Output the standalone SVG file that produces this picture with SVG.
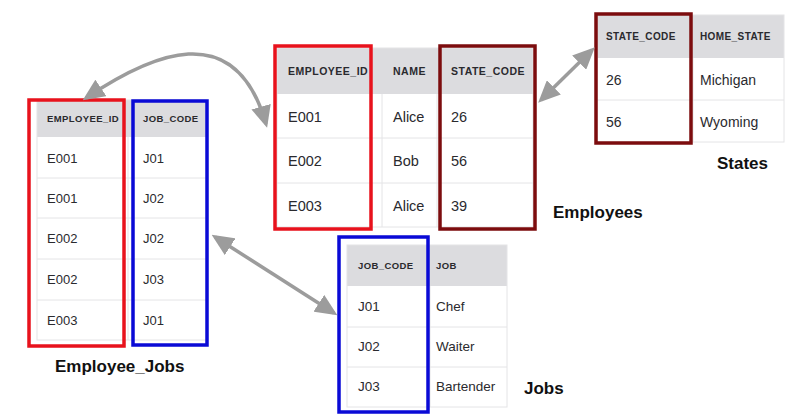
<svg xmlns="http://www.w3.org/2000/svg" width="787" height="419" viewBox="0 0 787 419">
<style>
.bg{fill:#ffffff}
.hdr{fill:#dcdcdf}
.grid{stroke:#e4e4e6;stroke-width:1;fill:none}
.h{font-family:"Liberation Sans",Arial,sans-serif;font-weight:bold;fill:#2a2a2e}
.b{font-family:"Liberation Sans",Arial,sans-serif;fill:#2a2a2e}
.lbl{font-family:"Liberation Sans",Arial,sans-serif;font-weight:bold;font-size:17px;fill:#111}
.red{fill:none;stroke:#e8121c;stroke-width:3.5}
.blue{fill:none;stroke:#0a0ad6;stroke-width:3.5}
.dred{fill:none;stroke:#7c0c0e;stroke-width:3.5}
.conn{fill:none;stroke:#9c9c9c;stroke-width:3.5}
</style>
<defs>
<marker id="ah" viewBox="0 0 22 20" refX="18" refY="10" markerWidth="22" markerHeight="20" markerUnits="userSpaceOnUse" orient="auto-start-reverse">
<path d="M0,0 L22,10 L0,20 Z" fill="#9c9c9c"/>
</marker>
</defs>
<rect class="bg" x="0" y="0" width="787" height="419"/>

<g id="employee_jobs">
<rect class="hdr" x="37" y="100" width="170" height="37"/>
<rect class="grid" x="37" y="100" width="170" height="240"/>
<path class="grid" d="M37,178H207M37,218H207M37,259H207M37,300H207M128,137V340"/>
<text class="h" font-size="9.5" letter-spacing="0.4" x="47" y="122">EMPLOYEE_ID</text>
<text class="h" font-size="9.5" letter-spacing="0.4" x="143" y="122">JOB_CODE</text>
<g class="b" font-size="13">
<text x="47" y="163">E001</text><text x="143" y="163">J01</text>
<text x="47" y="203">E001</text><text x="143" y="203">J02</text>
<text x="47" y="243">E002</text><text x="143" y="243">J02</text>
<text x="47" y="284">E002</text><text x="143" y="284">J03</text>
<text x="47" y="325">E003</text><text x="143" y="325">J01</text>
</g>
<rect class="red" x="29" y="100" width="95" height="246"/>
<rect class="blue" x="133" y="101" width="74" height="244"/>
<text class="lbl" x="55" y="372">Employee_Jobs</text>
</g>

<g id="employees">
<rect class="hdr" x="277" y="48" width="256" height="46"/>
<rect class="grid" x="277" y="48" width="256" height="179"/>
<path class="grid" d="M277,138H533M277,183H533M382,94V227M437,94V227"/>
<text class="h" font-size="10.5" letter-spacing="0.5" x="288" y="75">EMPLOYEE_ID</text>
<text class="h" font-size="10.5" letter-spacing="0.5" x="393" y="75">NAME</text>
<text class="h" font-size="10.5" letter-spacing="0.5" x="451" y="75">STATE_CODE</text>
<g class="b" font-size="14.5">
<text x="288" y="122">E001</text><text x="393" y="122">Alice</text><text x="451" y="122">26</text>
<text x="288" y="166">E002</text><text x="393" y="166">Bob</text><text x="451" y="166">56</text>
<text x="288" y="211">E003</text><text x="393" y="211">Alice</text><text x="451" y="211">39</text>
</g>
<rect class="red" x="275" y="46" width="96" height="183"/>
<rect class="dred" x="440" y="46" width="95" height="183"/>
<text class="lbl" x="553" y="218">Employees</text>
</g>

<g id="states">
<rect class="hdr" x="597" y="15" width="187" height="43"/>
<rect class="grid" x="597" y="15" width="187" height="127"/>
<path class="grid" d="M597,100H784M693,58V142"/>
<text class="h" font-size="10" letter-spacing="0.4" x="606" y="40">STATE_CODE</text>
<text class="h" font-size="10" letter-spacing="0.4" x="700" y="40">HOME_STATE</text>
<g class="b" font-size="14">
<text x="606" y="85">26</text><text x="700" y="85">Michigan</text>
<text x="606" y="127">56</text><text x="700" y="127">Wyoming</text>
</g>
<rect class="dred" x="596" y="14" width="95" height="129"/>
<text class="lbl" x="717" y="169">States</text>
</g>

<g id="jobs">
<rect class="hdr" x="347" y="245" width="160" height="41"/>
<rect class="grid" x="347" y="245" width="160" height="162"/>
<path class="grid" d="M347,327H507M347,367H507M430,286V407"/>
<text class="h" font-size="9.5" letter-spacing="0.4" x="358" y="269">JOB_CODE</text>
<text class="h" font-size="9.5" letter-spacing="0.4" x="436" y="269">JOB</text>
<g class="b" font-size="13.5">
<text x="358" y="311">J01</text><text x="436" y="311">Chef</text>
<text x="358" y="351">J02</text><text x="436" y="351">Waiter</text>
<text x="358" y="391">J03</text><text x="436" y="391">Bartender</text>
</g>
<rect class="blue" x="339" y="237" width="89" height="175"/>
<text class="lbl" x="524" y="394">Jobs</text>
</g>

<g id="connectors">
<path class="conn" marker-start="url(#ah)" marker-end="url(#ah)" d="M86,98 C150,55 235,15 266,124"/>
<path class="conn" marker-start="url(#ah)" marker-end="url(#ah)" d="M215,237 L334,313"/>
<path class="conn" marker-start="url(#ah)" marker-end="url(#ah)" d="M541,100 L592,50"/>
</g>
</svg>
